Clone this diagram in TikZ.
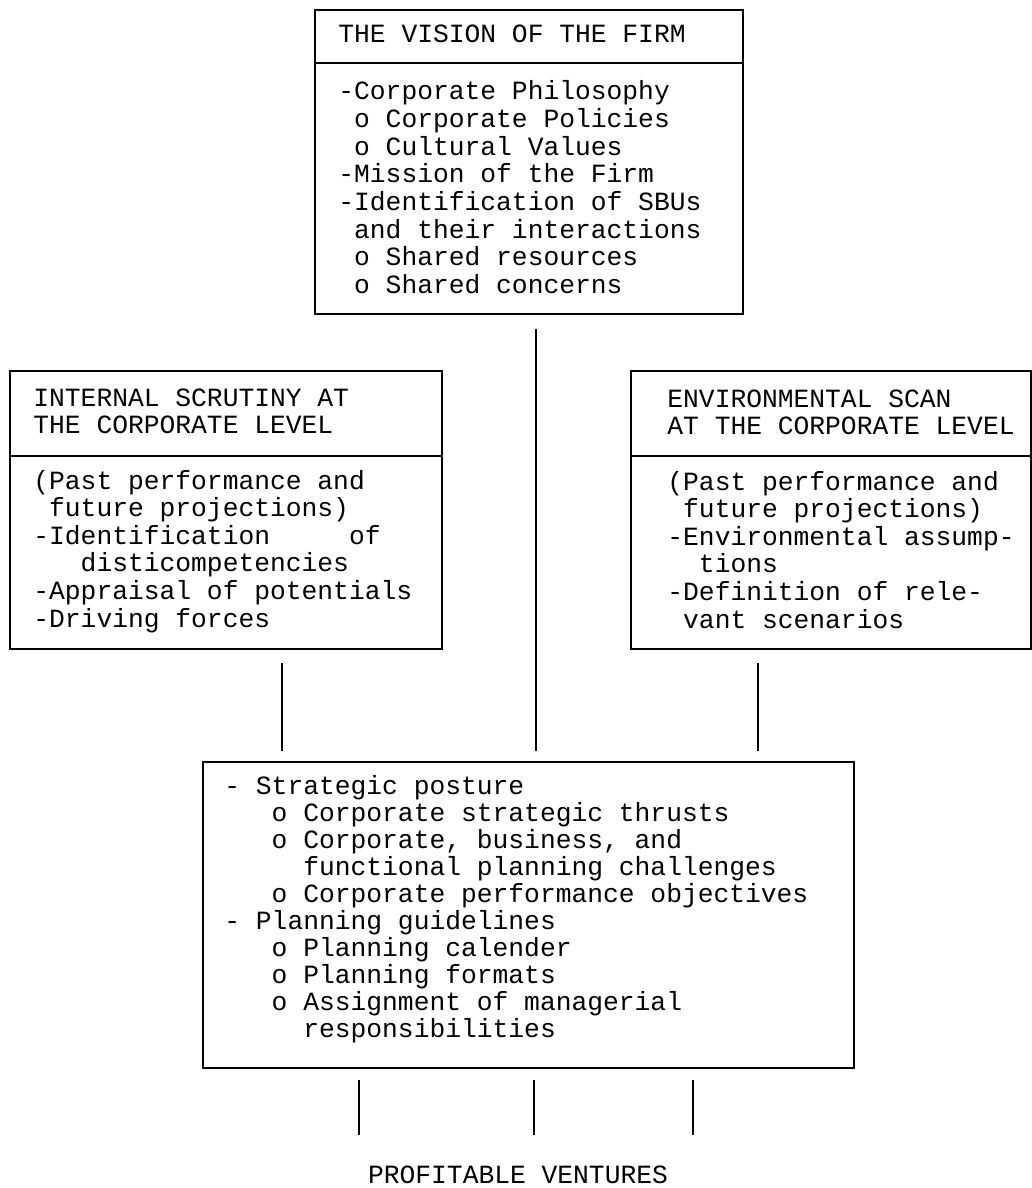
\documentclass[tikz,border=0pt]{standalone}
\usepackage{fontspec}
\setmonofont{Liberation Mono}
\tikzset{
  boxnode/.style={draw, line width=0.9pt, inner sep=0pt, anchor=north west},
  divider/.style={line width=0.9pt},
  txt/.style={inner sep=0pt, anchor=base west, font=\ttfamily\fontsize{13.15pt}{14pt}\selectfont},
  conn/.style={line width=0.8pt},
}
% #1 name prefix, #2 x, #3 first baseline y, #4 line step, #5 lines
\newcommand\boxlines[5]{%
  \foreach \t [count=\i from 0] in {#5} {%
    \node[txt] (#1\i) at (#2, {#3+\i*#4}) {\t};
  }%
}
\begin{document}
\begin{tikzpicture}[x=0.5pt,y=-0.5pt]
\useasboundingbox (0,0) rectangle (1032,1188);

% boxes
\node[boxnode, minimum width=214pt, minimum height=152pt] (vision) at (314,9) {};
\node[boxnode, minimum width=216pt, minimum height=139pt] (internal) at (9,370) {};
\node[boxnode, minimum width=200pt, minimum height=139pt] (environ) at (630,370) {};
\node[boxnode, minimum width=325.5pt, minimum height=153pt] (plan) at (202,761) {};

% dividers
\coordinate (dv) at (0,63);
\coordinate (ds) at (0,456);
\draw[divider] (vision.west |- dv) -- (vision.east |- dv);
\draw[divider] (internal.west |- ds) -- (internal.east |- ds);
\draw[divider] (environ.west |- ds) -- (environ.east |- ds);

% texts
\boxlines{vh}{338}{43}{27.6}{THE VISION OF THE FIRM}
\boxlines{vb}{338}{100}{27.6}{-Corporate Philosophy,~o Corporate Policies,~o Cultural Values,-Mission of the Firm,-Identification of SBUs,~and their interactions,~o Shared resources,~o Shared concerns}

\boxlines{ih}{33}{406}{27.3}{INTERNAL SCRUTINY AT,THE CORPORATE LEVEL}
\boxlines{ib}{33}{489}{27.6}{{(Past performance and},{~future projections)},-Identification~~~~~of,~~~disticompetencies,-Appraisal of potentials,-Driving forces}

\boxlines{eh}{667}{407}{27.5}{ENVIRONMENTAL SCAN,AT THE CORPORATE LEVEL}
\boxlines{eb}{667}{490}{27.6}{{(Past performance and},{~future projections)},-Environmental assump-,~~tions,-Definition of rele-,~vant scenarios}

\boxlines{pb}{224}{794}{27}{- Strategic posture,~~~o Corporate strategic thrusts,{~~~o Corporate, business, and},~~~~~functional planning challenges,~~~o Corporate performance objectives,- Planning guidelines,~~~o Planning calender,~~~o Planning formats,~~~o Assignment of managerial,~~~~~responsibilities}

\node[txt, anchor=base] (ventures) at (518,1183) {PROFITABLE VENTURES};

% connectors
\coordinate (mx) at (536,0);
\coordinate (lx) at (282,0);
\coordinate (rx) at (758,0);
\coordinate (b1) at (359,0);
\coordinate (b2) at (534,0);
\coordinate (b3) at (693,0);
\draw[conn] ([yshift=-7pt]vision.south -| mx) -- ([yshift=5pt]plan.north -| mx);
\draw[conn] ([yshift=-6.5pt]internal.south -| lx) -- ([yshift=5pt]plan.north -| lx);
\draw[conn] ([yshift=-6.5pt]environ.south -| rx) -- ([yshift=5pt]plan.north -| rx);
\draw[conn] ([yshift=-5.5pt]plan.south -| b1) -- ([yshift=15pt]ventures.north -| b1);
\draw[conn] ([yshift=-5.5pt]plan.south -| b2) -- ([yshift=15pt]ventures.north -| b2);
\draw[conn] ([yshift=-5.5pt]plan.south -| b3) -- ([yshift=15pt]ventures.north -| b3);
\end{tikzpicture}
\end{document}
